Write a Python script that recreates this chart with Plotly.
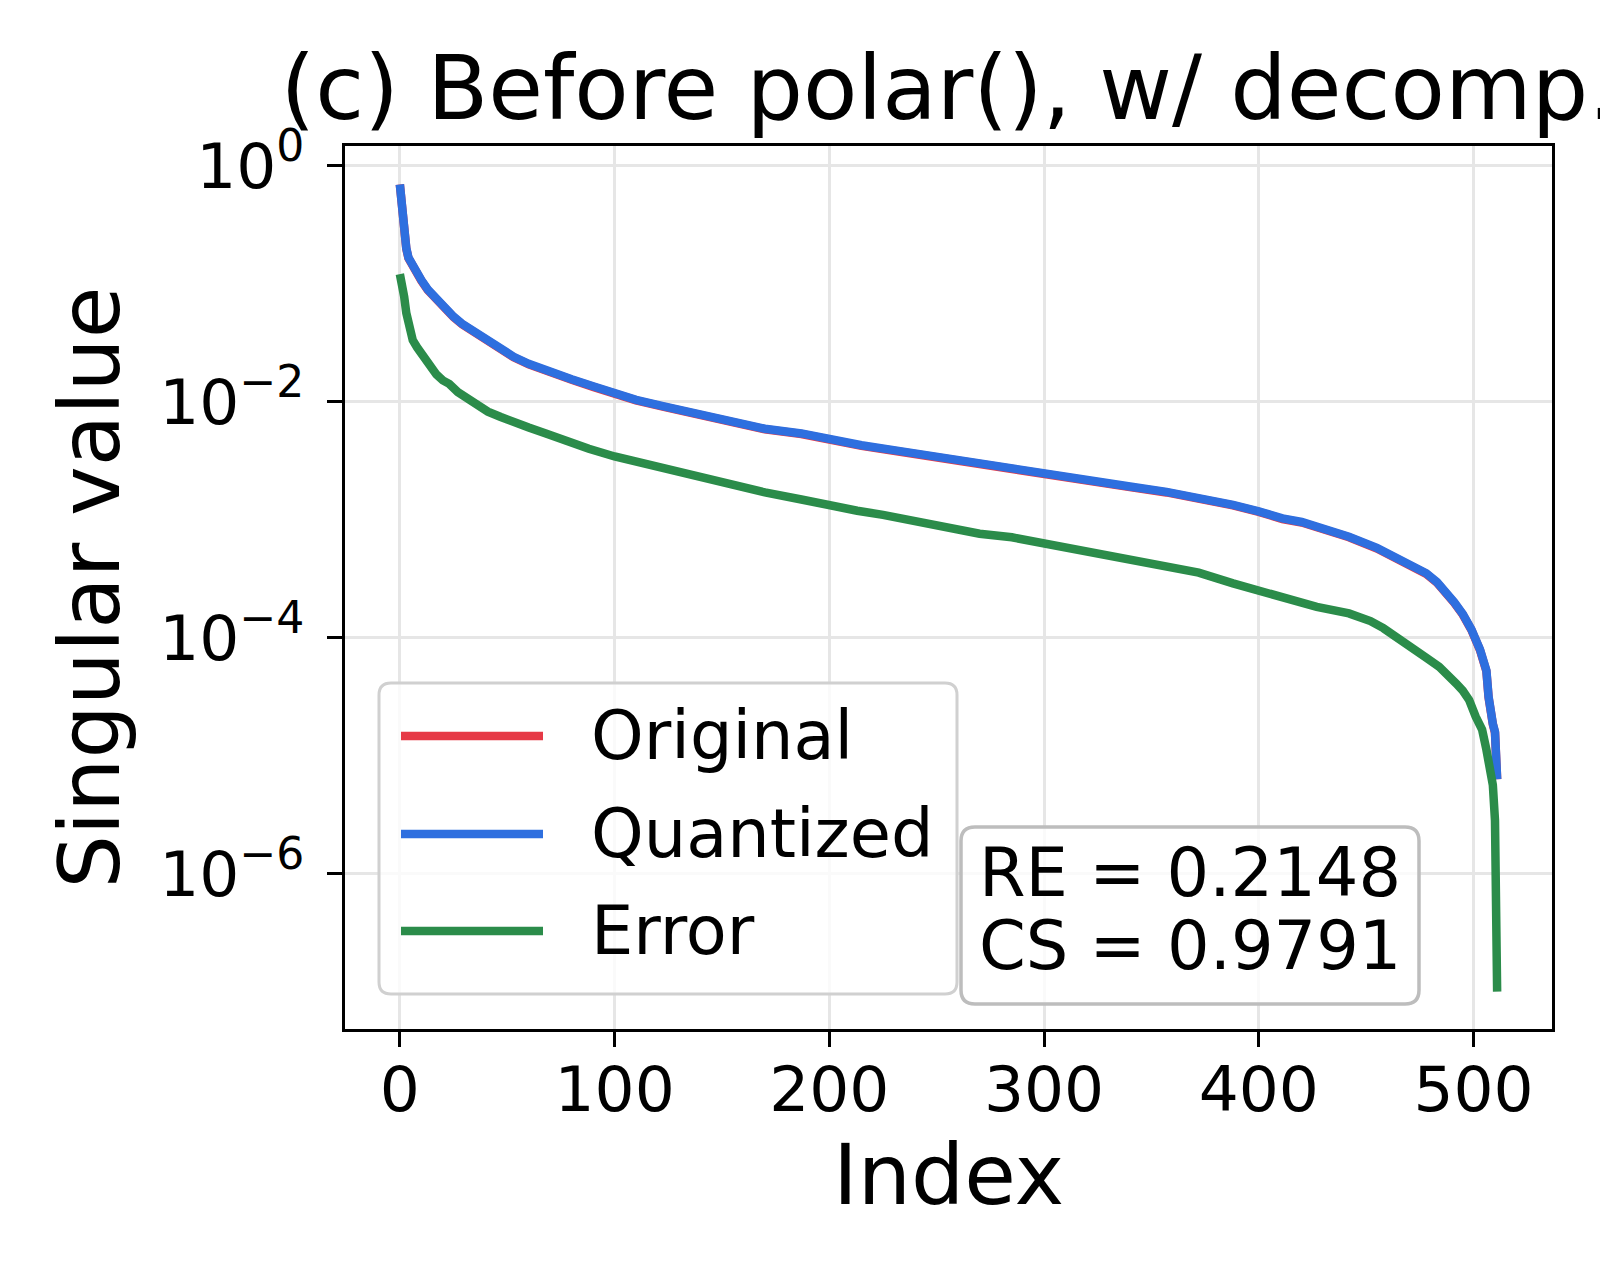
import plotly.graph_objects as go

# ---- data (log10 of singular value) ----
quant_idx = [0, 1, 2, 3, 4, 6, 8, 10, 13, 16, 19, 22, 25, 29, 33, 40, 45, 53, 60, 70, 80, 90,
             100, 110, 123, 140, 154, 170, 187, 200, 215, 233, 250, 264, 280, 300, 326, 340,
             357, 375, 388, 400, 411, 420, 427, 442, 455, 465, 472, 478, 483, 487, 491, 495,
             499, 503, 505, 506, 507, 508, 509, 510, 511]
quant_log10 = [-0.16, -0.40, -0.57, -0.70, -0.78, -0.85, -0.92, -0.97, -1.05, -1.11, -1.17, -1.22,
               -1.28, -1.34, -1.39, -1.47, -1.53, -1.62, -1.68, -1.75, -1.81, -1.87,
               -1.93, -1.985, -2.04, -2.11, -2.17, -2.23, -2.27, -2.32, -2.37, -2.42, -2.47,
               -2.51, -2.555, -2.61, -2.68, -2.72, -2.765, -2.82, -2.875, -2.93, -2.99, -3.02,
               -3.06, -3.145, -3.24, -3.34, -3.40, -3.455, -3.53, -3.61, -3.70, -3.80,
               -3.93, -4.10, -4.20, -4.28, -4.50, -4.68, -4.73, -4.80, -5.20]

orig_idx = quant_idx
orig_log10 = [-0.16, -0.40, -0.575, -0.705, -0.785, -0.855, -0.925, -0.975, -1.055, -1.115, -1.175,
              -1.225, -1.285, -1.345, -1.395, -1.475, -1.535, -1.625, -1.685, -1.755, -1.815,
              -1.875, -1.935, -1.99, -2.045, -2.115, -2.175, -2.235, -2.275, -2.325, -2.375,
              -2.425, -2.475, -2.515, -2.56, -2.615, -2.685, -2.725, -2.77, -2.825, -2.88,
              -2.935, -2.995, -3.025, -3.065, -3.15, -3.245, -3.345, -3.405, -3.46, -3.535,
              -3.615, -3.705, -3.805, -3.935, -4.105, -4.205, -4.285, -4.505, -4.685, -4.735,
              -4.805, -5.20]

err_idx = [0, 1, 2, 3, 4, 5, 6, 8, 10, 12, 14, 17, 20, 23, 27, 33, 37, 41, 47, 53, 60, 68, 76,
           88, 100, 110, 123, 138, 154, 170, 187, 200, 213, 225, 240, 256, 270, 285, 300, 315,
           326, 340, 357, 372, 388, 400, 411, 419, 427, 442, 452, 458, 464, 469, 473, 478, 484,
           488, 492, 495, 498, 501, 503, 504, 506, 507, 508, 509, 510, 511]
err_log10 = [-0.92, -1.00, -1.11, -1.25, -1.35, -1.42, -1.48, -1.54, -1.59, -1.65, -1.72, -1.77,
             -1.82, -1.85, -1.92, -2.00, -2.05, -2.085, -2.13, -2.18, -2.22, -2.27, -2.325,
             -2.40, -2.465, -2.51, -2.565, -2.64, -2.705, -2.77, -2.83, -2.885, -2.925, -2.96,
             -3.01, -3.06, -3.12, -3.15, -3.20, -3.25, -3.285, -3.33, -3.385, -3.45, -3.54,
             -3.60, -3.655, -3.69, -3.74, -3.795, -3.86, -3.92, -3.99, -4.05, -4.105, -4.17,
             -4.247, -4.31, -4.39, -4.45, -4.53, -4.67, -4.74, -4.78, -4.95, -5.05, -5.15,
             -5.25, -5.55, -7.00]

series_names = ["Original", "Quantized", "Error"]
series_colors = ["#E63946", "#2E6FDF", "#2B8C4A"]
x_ticks = [0, 100, 200, 300, 400, 500]
y_tickvals = [1, 1e-2, 1e-4, 1e-6]
y_ticktext = ["10<sup>0</sup>", "10<sup>\u22122</sup>", "10<sup>\u22124</sup>", "10<sup>\u22126</sup>"]
title_text = "(c) Before polar(), w/ decomp."
stats_lines = ["RE = 0.2148", "CS = 0.9791"]

# ---- layout geometry (pixels) ----
W, H = 1600, 1280
L, R, T, B = 345, 1552, 146, 1029
PW, PH = R - L, B - T
FONT = "DejaVu Sans"


def px(x):
    return (x - L) / PW


def py(y):
    return (B - y) / PH


def rounded_box(x0, y0, x1, y1, r):
    rx, ry = r / PW, r / PH
    a, b, c, d = px(x0), py(y1), px(x1), py(y0)  # left, bottom, right, top
    return (f"M{a+rx},{b} L{c-rx},{b} Q{c},{b} {c},{b+ry} L{c},{d-ry} Q{c},{d} {c-rx},{d} "
            f"L{a+rx},{d} Q{a},{d} {a},{d-ry} L{a},{b+ry} Q{a},{b} {a+rx},{b} Z")


fig = go.Figure()
all_idx = [orig_idx, quant_idx, err_idx]
all_log = [orig_log10, quant_log10, err_log10]
for name, col, xs, ls in zip(series_names, series_colors, all_idx, all_log):
    fig.add_trace(go.Scatter(x=xs, y=[10 ** v for v in ls], mode="lines", name=name,
                             line=dict(color=col, width=8.5), showlegend=False))

shapes = []
annotations = []
# legend box
shapes.append(dict(type="path", path=rounded_box(379, 683, 957, 994, 12), xref="paper", yref="paper",
                   fillcolor="rgba(255,255,255,0.8)", line=dict(color="#d0d0d0", width=3), layer="above"))
leg_y = [736, 834, 931]
for name, col, yy in zip(series_names, series_colors, leg_y):
    shapes.append(dict(type="line", xref="paper", yref="paper", x0=px(401), x1=px(543), y0=py(yy), y1=py(yy),
                       line=dict(color=col, width=8.5), layer="above"))
    annotations.append(dict(text=name, xref="paper", yref="paper", x=px(589), y=py(yy), xanchor="left",
                            yanchor="middle", showarrow=False, font=dict(family=FONT, size=67, color="black")))
# stats box
shapes.append(dict(type="path", path=rounded_box(961, 827, 1419, 1004, 14), xref="paper", yref="paper",
                   fillcolor="rgba(255,255,255,0.8)", line=dict(color="#bdbdbd", width=3.5), layer="above"))
for txt, yy in zip(stats_lines, [873, 946]):
    annotations.append(dict(text=txt, xref="paper", yref="paper", x=px(977), y=py(yy), xanchor="left",
                            yanchor="middle", showarrow=False, font=dict(family=FONT, size=67, color="black")))

fig.update_layout(
    width=W, height=H,
    margin=dict(l=L, r=W - R, t=T, b=H - B),
    paper_bgcolor="white", plot_bgcolor="white",
    font=dict(family=FONT, size=63, color="black"),
    title=dict(text=title_text, x=948.5 / W, xref="container", xanchor="center",
               y=1 - 88 / H, yref="container", yanchor="middle",
               font=dict(family=FONT, size=89, color="black")),
    shapes=shapes, annotations=annotations,
    xaxis=dict(range=[-25.55, 536.55], tickvals=x_ticks, ticks="outside", ticklen=15, tickwidth=3,
               tickcolor="black", showline=True, linecolor="black", linewidth=3, mirror=True,
               showgrid=True, gridcolor="#e6e6e6", gridwidth=2.5, zeroline=False,
               tickfont=dict(family=FONT, size=63), ticklabelstandoff=-12,
               title=dict(text="Index", font=dict(family=FONT, size=84), standoff=10)),
    yaxis=dict(type="log", range=[-7.317, 0.166], tickvals=y_tickvals, ticktext=y_ticktext,
               ticks="outside", ticklen=15, tickwidth=3, tickcolor="black", showline=True,
               linecolor="black", linewidth=3, mirror=True, showgrid=True, gridcolor="#e6e6e6",
               gridwidth=2.5, zeroline=False, tickfont=dict(family=FONT, size=63), ticklabelstandoff=10,
               title=dict(text="Singular value", font=dict(family=FONT, size=84), standoff=12)),
)

fig.write_html("out.html")
